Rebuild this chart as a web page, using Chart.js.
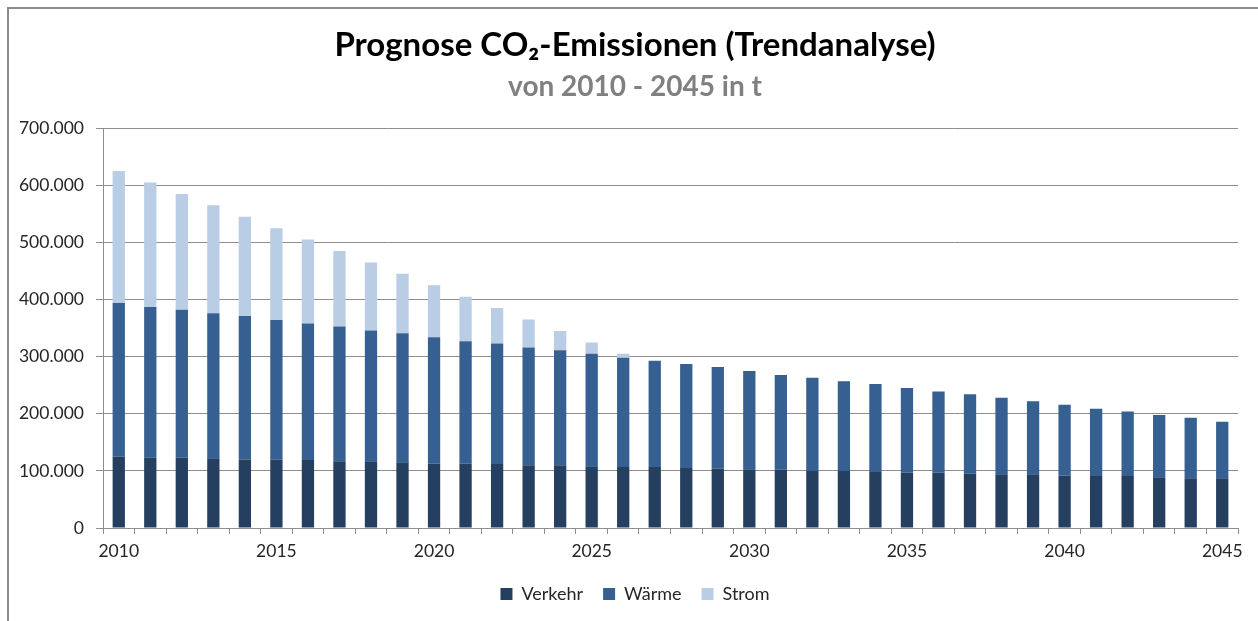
<!DOCTYPE html>
<html lang="de">
<head>
<meta charset="utf-8">
<title>Prognose CO2-Emissionen</title>
<script src="https://cdn.jsdelivr.net/npm/chart.js@4.4.1/dist/chart.umd.min.js"></script>
<style>
  html, body { margin: 0; padding: 0; background: #fff; overflow: hidden; }
  #wrap { position: relative; width: 1258px; height: 621px; }
  #frame {
    position: absolute; left: 7px; top: 7px; right: -10px; bottom: -10px;
    border-left: 2px solid #8c8c8c; border-top: 2px solid #8c8c8c;
    pointer-events: none;
  }
</style>
</head>
<body>
<div id="wrap">
  <canvas id="co2-chart" width="1258" height="621"></canvas>
  <div id="frame"></div>
</div>
<script>
const years = [
  "2010", "2011", "2012", "2013", "2014", "2015", "2016", "2017", "2018", "2019",
  "2020", "2021", "2022", "2023", "2024", "2025", "2026", "2027", "2028", "2029",
  "2030", "2031", "2032", "2033", "2034", "2035", "2036", "2037", "2038", "2039",
  "2040", "2041", "2042", "2043", "2044", "2045"
];

// values in t
const verkehr = [
  125000, 123000, 123000, 122000, 120000, 120000, 119000, 117000, 117000, 115000,
  113000, 113000, 112000, 110000, 110000, 108000, 107000, 107000, 105000, 104000,
  103000, 102000, 100000, 100000, 98000, 97000, 97000, 95000, 94000, 94000,
  92000, 91000, 91000, 89000, 87000, 87000
];
const waerme = [
  269000, 264000, 259000, 254000, 251000, 244000, 239000, 236000, 229000, 226000,
  221000, 214000, 211000, 206000, 201000, 197000, 191000, 186000, 182000, 178000,
  172000, 166000, 163000, 157000, 154000, 148000, 142000, 139000, 134000, 128000,
  124000, 118000, 113000, 109000, 106000, 99000
];
const strom = [
  231000, 218000, 203000, 189000, 174000, 161000, 147000, 132000, 119000, 104000,
  91000, 78000, 62000, 49000, 34000, 20000, 7000, 0, 0, 0,
  0, 0, 0, 0, 0, 0, 0, 0, 0, 0,
  0, 0, 0, 0, 0, 0
];

const yTicks = [0, 100000, 200000, 300000, 400000, 500000, 600000, 700000];

const fontFamily = "Lato, 'Open Sans', sans-serif";
const gridGray = "#8e8e8e";
const textColor = "#262626";

const ctx = document.getElementById("co2-chart").getContext("2d");

new Chart(ctx, {
  type: "bar",
  data: {
    labels: years,
    datasets: [
      { label: "Verkehr", data: verkehr, backgroundColor: "#253f60" },
      { label: "Wärme", data: waerme, backgroundColor: "#366092" },
      { label: "Strom", data: strom, backgroundColor: "#b9cde5" },
    ],
  },
  options: {
    responsive: false,
    animation: false,
    layout: { padding: { left: 12, right: 0, top: 0, bottom: 8 } },
    datasets: {
      bar: { categoryPercentage: 1, barPercentage: 0.39, borderWidth: 0 },
    },
    plugins: {
      tooltip: { enabled: false },
      title: {
        display: true,
        text: "Prognose CO₂-Emissionen (Trendanalyse)",
        color: "#000",
        font: { family: fontFamily, size: 33, weight: "bold" },
        padding: { top: 26, bottom: 5 },
      },
      subtitle: {
        display: true,
        text: "von 2010 - 2045 in t",
        color: "#808080",
        font: { family: fontFamily, size: 28, weight: "bold" },
        padding: { top: 0, bottom: 24 },
      },
      legend: {
        position: "bottom",
        labels: {
          color: textColor,
          boxWidth: 12,
          boxHeight: 12,
          padding: 20,
          font: { family: fontFamily, size: 18 },
        },
      },
    },
    scales: {
      x: {
        stacked: true,
        afterFit: (scale) => { scale.height -= 4; },
        grid: {
          offset: true,
          drawOnChartArea: false,
          color: gridGray,
          tickLength: 6,
        },
        border: { color: gridGray },
        ticks: {
          autoSkip: false,
          maxRotation: 0,
          color: textColor,
          padding: 7,
          font: { family: fontFamily, size: 17.5 },
          callback: (val, idx) => (idx % 5 === 0 ? years[idx] : ""),
        },
      },
      y: {
        stacked: true,
        min: 0,
        max: 700000,
        afterFit: (scale) => { scale.width = 91; },
        afterBuildTicks: (scale) => {
          scale.ticks = yTicks.map((v) => ({ value: v }));
        },
        grid: { color: gridGray, tickLength: 7 },
        border: { color: gridGray },
        ticks: {
          color: textColor,
          padding: 12,
          font: { family: fontFamily, size: 17.5 },
          callback: (v) => v.toLocaleString("de-DE"),
        },
      },
      // empty right-hand spacer so the plot ends at the same place as the reference
      spacer: {
        type: "linear",
        position: "right",
        display: true,
        afterFit: (scale) => { scale.width = 20; },
        grid: { display: false },
        border: { display: false },
        ticks: { display: false },
      },
    },
  },
});
</script>
</body>
</html>
